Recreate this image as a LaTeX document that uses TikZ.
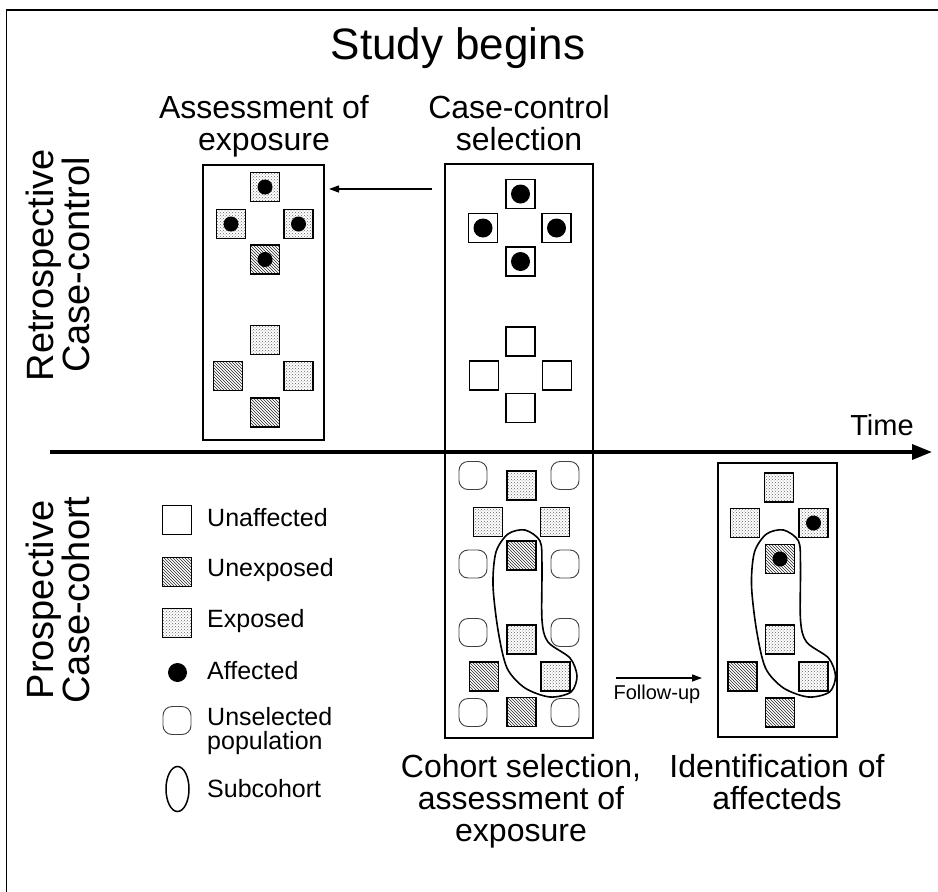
\documentclass[tikz,border=0pt]{standalone}
\usepackage{fontspec}
\setmainfont{Liberation Sans}
\usetikzlibrary{arrows.meta,patterns,shapes.geometric}

\begin{document}
\begin{tikzpicture}[x=1pt, y=-1pt,
    bigbox/.style={draw, line width=2pt, inner sep=0pt},
    sq/.style={draw, line width=1.8pt, minimum size=29pt, inner sep=0pt},
    unaffsq/.style={sq, fill=white},
    expsq/.style={sq, preaction={fill=white}, pattern=crosshatch dots, pattern color=black!60},
    unexpsq/.style={sq, preaction={fill=white}, pattern=north west lines, pattern color=black!85},
    unsel/.style={draw=black!75, line width=0.9pt, minimum size=28pt, rounded corners=9pt, inner sep=0pt},
    dotmark/.style={circle, fill, inner sep=0pt, minimum size=#1},
    blob/.style={line width=1.6pt},
    lbl/.style={font=\fontsize{32}{32}\selectfont, align=center, inner sep=0pt},
    side/.style={font=\fontsize{38}{33}\selectfont, align=center, inner sep=0pt, rotate=90},
    leg/.style={font=\fontsize{25}{24}\selectfont, align=left, anchor=west, inner sep=0pt},
    smallarr/.style={line width=1.3pt, -{Triangle[length=10pt,width=7pt]}}
  ]
  \useasboundingbox (0,0) rectangle (938,892);

  % frame
  \draw [line width=1.8pt] (6.5,892) -- (6.5,10) -- (938,10);

  % headings
  \node [font=\fontsize{44}{44}\selectfont, anchor=base] (title) at (458,59) {Study begins};
  \node [lbl, anchor=north] (assesslbl) at (264,95) {Assessment of\\exposure};
  \node [lbl, anchor=north] (cclbl) at (519,95) {Case-control\\selection};
  \node [side] (retro) at (58,265) {Retrospective\\Case-control};
  \node [side] (prosp) at (58,600) {Prospective\\Case-cohort};

  % time axis
  \coordinate (tstart) at (50,452);
  \coordinate (tend) at (932,452);
  \node [font=\fontsize{29}{29}\selectfont, anchor=base] (time) at (882,435) {Time};

  % boxes
  \node [bigbox, minimum width=121pt, minimum height=275pt] (assess) at (263.5,302.5) {};
  \node [bigbox, minimum width=148pt, minimum height=288pt] (ccsel) at (519,308) {};
  \node [bigbox, minimum width=148pt, minimum height=286pt] (cohort) at (519,595) {};
  \node [bigbox, minimum width=119pt, minimum height=274pt] (ident) at (777.5,600) {};

  \draw [line width=3.5pt, -{Triangle[length=20pt,width=15pt]}] (tstart) -- (tend);

  % assessment of exposure
  \node [expsq] (a1) at (265,187) {};
  \node [expsq] (a2) at (231,224) {};
  \node [expsq] (a3) at (298.5,224) {};
  \node [unexpsq] (a4) at (265,259.5) {};
  \node [dotmark=15pt] (ad1) at (a1) {};
  \node [dotmark=15pt] (ad2) at (a2) {};
  \node [dotmark=15pt] (ad3) at (a3) {};
  \node [dotmark=15pt] (ad4) at (a4) {};
  \node [expsq] (a5) at (265,340) {};
  \node [unexpsq] (a6) at (228,376) {};
  \node [expsq] (a7) at (298.5,376) {};
  \node [unexpsq] (a8) at (265,412.5) {};

  % case-control selection
  \node [unaffsq] (c1) at (520.5,194) {};
  \node [unaffsq] (c2) at (483,228) {};
  \node [unaffsq] (c3) at (556.5,228) {};
  \node [unaffsq] (c4) at (520.5,261.5) {};
  \node [dotmark=19pt] (cd1) at (c1) {};
  \node [dotmark=19pt] (cd2) at (c2) {};
  \node [dotmark=19pt] (cd3) at (c3) {};
  \node [dotmark=19pt] (cd4) at (c4) {};
  \node [unaffsq] (c5) at (520.5,341.5) {};
  \node [unaffsq] (c6) at (484,375.5) {};
  \node [unaffsq] (c7) at (557,375.5) {};
  \node [unaffsq] (c8) at (520.5,408) {};

  \coordinate (ccarrow) at (0,189);
  \draw [smallarr, shorten <=12pt, shorten >=4pt] (ccsel.west |- ccarrow) -- (assess.east |- ccarrow);

  % cohort selection
  \node [unsel] (u1) at (473,475.5) {};
  \node [unsel] (u2) at (565,475.5) {};
  \node [unsel] (u3) at (473,564) {};
  \node [unsel] (u4) at (565,564) {};
  \node [unsel] (u5) at (473,632.5) {};
  \node [unsel] (u6) at (565,632.5) {};
  \node [unsel] (u7) at (473,712.5) {};
  \node [unsel] (u8) at (565,712.5) {};
  \node [expsq] (h1) at (521.5,485.5) {};
  \node [expsq] (h2) at (488,522) {};
  \node [expsq] (h3) at (555,522) {};
  \node [unexpsq] (h4) at (521.5,555.5) {};
  \node [expsq] (h5) at (521.5,639.5) {};
  \node [unexpsq] (h6) at (484,676.5) {};
  \node [expsq] (h7) at (555.5,676.5) {};
  \node [unexpsq] (h8) at (521.5,712) {};
  \draw [blob] plot [smooth cycle] coordinates {(525,530) (540,541) (542,565) (542,620) (548,642) (570,658) (577,676) (571,692) (550,697) (525,688) (507,668) (498,630) (493,585) (496,552) (508,534)};

  % identification of affecteds
  \node [expsq] (i1) at (779,487.5) {};
  \node [expsq] (i2) at (745,523) {};
  \node [expsq] (i3) at (813.5,523) {};
  \node [unexpsq] (i4) at (780,559) {};
  \node [dotmark=15pt] (id3) at (i3) {};
  \node [dotmark=15pt] (id4) at (i4) {};
  \node [expsq] (i5) at (780,639.5) {};
  \node [unexpsq] (i6) at (742.5,676.5) {};
  \node [expsq] (i7) at (813.5,676.5) {};
  \node [unexpsq] (i8) at (780,712.5) {};
  \draw [blob, xshift=258.5pt] plot [smooth cycle] coordinates {(525,530) (540,541) (542,565) (542,620) (548,642) (570,658) (577,676) (571,692) (550,697) (525,688) (507,668) (498,630) (493,585) (496,552) (508,534)};

  \coordinate (fuarrow) at (0,678);
  \draw [smallarr, shorten <=22pt, shorten >=15pt] (cohort.east |- fuarrow) -- (ident.west |- fuarrow);
  \node [font=\fontsize{20}{20}\selectfont] (fulbl) at (657,694) {Follow-up};

  \node [lbl, anchor=north] (cohortlbl) at (521,754) {Cohort selection,\\assessment of\\exposure};
  \node [lbl, anchor=north] (identlbl) at (777,754) {Identification of\\affecteds};

  % legend
  \node [unaffsq] (k1) at (177,520) {};
  \node [unexpsq] (k2) at (177,572) {};
  \node [expsq] (k3) at (177,623) {};
  \node [dotmark=19pt] (k4) at (177.5,672.5) {};
  \node [unsel] (k5) at (177,720.5) {};
  \node [ellipse, draw, line width=1.5pt, minimum width=23pt, minimum height=45pt, inner sep=0pt] (k6) at (177.5,789) {};
  \node [leg] (t1) at (207,518) {Unaffected};
  \node [leg] (t2) at (207,570) {Unexposed};
  \node [leg] (t3) at (207,621) {Exposed};
  \node [leg] (t4) at (207,671) {Affected};
  \node [leg, anchor=north west] (t5) at (207,707) {Unselected\\population};
  \node [leg] (t6) at (207,789) {Subcohort};
\end{tikzpicture}
\end{document}
